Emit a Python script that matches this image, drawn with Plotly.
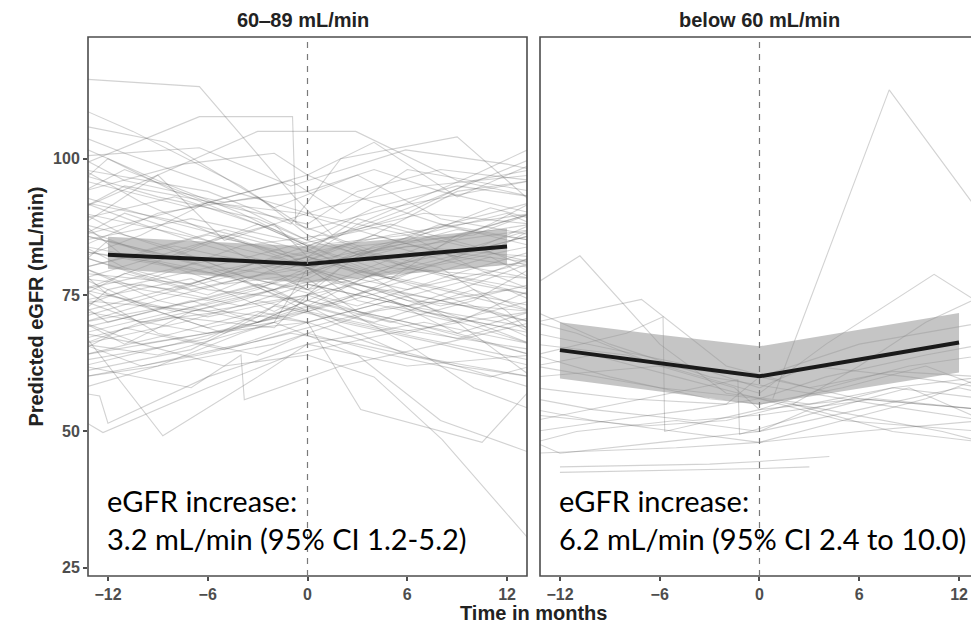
import plotly.graph_objects as go

# ---------------- data ----------------
tick_months = [-12, -6, 0, 6, 12]
tick_month_labels = ["\u221212", "\u22126", "0", "6", "12"]
tick_egfr = [25, 50, 75, 100]
panel_titles = ["60\u201289 mL/min", "below 60 mL/min"]
annot_texts = ["eGFR increase:<br>3.2 mL/min (95% CI 1.2-5.2)",
               "eGFR increase:<br>6.2 mL/min (95% CI 2.4 to 10.0)"]

# model fit (mean + 95% CI ribbon)
fit_months = [-12, -6, 0, 6, 12]
left_mean = [82.4, 81.6, 80.7, 82.3, 83.9]
left_upper = [85.7, 84.8, 83.9, 85.5, 87.2]
left_lower = [79.8, 78.6, 77.2, 79.0, 80.6]
right_mean = [64.9, 62.5, 60.1, 63.2, 66.3]
right_upper = [70.0, 67.7, 65.6, 68.6, 71.7]
right_lower = [59.7, 57.3, 54.9, 57.8, 60.8]

# individual patient trajectories, 60-89 mL/min group
left_times = [
    [-13.5, -6.5, -0.8, 1.5, 7, 13.5], [-13.5, -10.5, -4, 0, 5, 13.5],
    [-13.5, -6.5, -0.9, -0.7, 4, 13.5], [-13.5, -3, 2.9, 9, 13.5],
    [-13.5, -6.5, -1, 5.9, 12, 13.5], [-13.5, -8.5, -2, 3, 8, 13.5],
    [-13.5, -7, 0, 4, 9, 13.5], [-13.5, -9, -5, 1, 7, 13.5],
    [-13.5, -6, -1, 2, 9, 13.5], [-13.5, -11, -4.5, 0, 6, 10, 13.5],
    [-13.5, -7.5, -2, 0, 3, 8, 13.5], [-13.5, -9, -3, 0, 5, 11, 13.5],
    [-13.5, -10, -6, -1, 4, 9, 13.5], [-13.5, -8, -3, 0, 7, 13.5],
    [-13.5, -6, 0, 3, 10, 13.5], [-13.5, -11, -5, 0, 4, 12, 13.5],
    [-13.5, -9.5, -4, 1, 6, 13.5], [-13.5, -7, -2, 0, 5, 9, 13.5],
    [-13.5, -10, -5, 0, 6, 13.5], [-13.5, -8.5, -3.5, 0, 3, 8, 13.5],
    [-13.5, -12, -6, -1, 5, 10, 13.5], [-13.5, -7, -2, 2, 7, 13.5],
    [-13.5, -9, -4, 0, 4, 11, 13.5], [-13.5, -6.5, -1.5, 0, 6, 13.5],
    [-13.5, -11, -6, 0, 5, 10, 13.5], [-13.5, -8, -2, 1, 8, 13.5],
    [-13.5, -10, -4, 0, 3, 9, 13.5], [-13.5, -7.5, -3, 0, 6, 13.5],
    [-13.5, -9, -5, -1, 4, 10, 13.5], [-13.5, -6, 0, 5, 11, 13.5],
    [-13.5, -11, -7, -2, 2, 8, 13.5], [-13.5, -8, -3, 0, 6, 13.5],
    [-13.5, -10, -4, 0, 5, 9, 13.5], [-13.5, -6.5, -1, 3, 9, 13.5],
    [-13.5, -9, -3, 0, 4, 12, 13.5], [-13.5, -12.5, -12, -6, 0, 6, 13.5],
    [-13.5, -12.3, -6, -1, 5, 13.5], [-13.5, -8.7, -3, 0, 7, 13.5],
    [-13.5, -7, -4, -3.8, 2, 8, 13.5], [-13.5, -10, -5, 0, 4, 8.1, 13.5],
    [-13.5, -9, -2, 3, 8, 13.5], [-13.5, -6, 0, 3.2, 10.5, 13.5],
    [-13.5, -11, -5, 0, 6, 10, 13.5], [-13.5, -8, -2, 0, 4, 9, 13.5],
    [-13.5, -10, -5.5, -1, 5, 13.5], [-13.5, -7, -2, 1, 7, 13.5],
    [-13.5, -9, -4, 0, 5, 11, 13.5], [-13.5, -11, -6, 0, 3, 8, 13.5],
    [-13.5, -6, -1, 2, 6, 13.5], [-13.5, -10, -6, -0.5, 4, 9, 13.5],
    [-13.5, -8, -4, 0, 6, 10, 13.5], [-13.5, -12, -7, -3, 2, 7, 13.5],
    [-13.5, -9, -3, 0, 5, 13.5], [-13.5, -6, 0, 2, 8, 13.5],
    [-13.5, -10, -5, 0, 5, 10, 13.5], [-13.5, -7, -2, 1, 6, 13.5],
    [-13.5, -11, -4, 0, 6, 12, 13.5], [-13.5, -8, -3, 0, 4, 9, 13.5],
    [-13.5, -5, 0, 3, 7, 13.5], [-13.5, -9, -2, 0, 5, 11, 13.5],
    [-13.5, -10, -6, -1, 3, 10, 13.5], [-13.5, -7.5, -2, 0, 5, 13.5],
    [-13.5, -12, -8, -3, 0, 6, 13.5], [-13.5, -6, 0, 4, 9, 13.5],
    [-13.5, -9, -4, 0, 6, 13.5], [-13.5, -7, -1, 2, 8, 12, 13.5],
    [-13.5, -11, -5, 0, 4, 8, 13.5], [-13.5, -8, -3, 0, 5, 10, 13.5],
    [-13.5, -10, -2, 0, 3, 9, 13.5], [-13.5, -6, -1, 4, 10, 13.5],
    [-13.5, -9, -4, 0, 5, 10, 13.5], [-13.5, -7, -3, 0, 4, 9, 13.5],
    [-13.5, -11, -6, -1, 3, 8, 13.5], [-13.5, -8, -2, 0, 6, 13.5],
    [-13.5, -10, -5, 0, 4, 10, 13.5], [-13.5, -6, -2, 1, 7, 13.5],
    [-13.5, -9, -4, 0, 6, 11, 13.5], [-13.5, -12, -7, -2, 3, 9, 13.5],
    [-13.5, -8, -3, 0, 5, 13.5], [-13.5, -10, -6, 0, 4, 8, 13.5],
    [-13.5, -7, -1, 3, 9, 13.5], [-13.5, -11, -5, 0, 5, 12, 13.5],
    [-13.5, -9, -3, 0, 4, 9, 13.5], [-13.5, -6, 0, 3, 8, 13.5],
    [-13.5, -10, -4, 0, 6, 10, 13.5], [-13.5, -8, -2, 1, 5, 11, 13.5],
    [-13.5, -12, -6, 0, 4, 9, 13.5], [-13.5, -7, -3, 0, 6, 13.5],
    [-13.5, -9, -5, 0, 3, 8, 13.5], [-13.5, -11, -4, 0, 5, 10, 13.5],
]
left_egfr = [
    [114.6, 113.2, 93, 86, 90, 88], [109, 105, 95, 87, 91, 96],
    [99, 107.7, 107.7, 88, 83, 87], [91, 105, 105, 96, 93],
    [100.5, 102, 95, 101.6, 99, 98], [106, 103, 91, 97, 89, 86],
    [96, 91, 97, 103, 93, 99], [88, 97, 85, 91, 95, 97],
    [98, 94, 88, 100, 104, 92], [104, 101, 94, 90, 86, 80, 78],
    [94, 99, 101, 97, 93, 88, 84], [84, 90, 93, 86, 80, 88, 92],
    [92, 88, 84, 80, 86, 94, 96], [86, 82, 88, 84, 92, 100],
    [80, 86, 82, 88, 97, 102], [90, 86, 80, 78, 84, 90, 88],
    [82, 78, 84, 86, 80, 76], [78, 84, 88, 82, 78, 86, 90],
    [76, 80, 86, 80, 74, 72], [88, 84, 78, 76, 82, 88, 85],
    [72, 76, 80, 84, 88, 84, 80], [74, 78, 72, 78, 84, 90],
    [80, 74, 78, 72, 76, 82, 78], [70, 74, 78, 76, 80, 86],
    [84, 80, 76, 74, 70, 74, 80], [68, 72, 76, 78, 74, 70],
    [74, 70, 74, 78, 72, 68, 72], [66, 70, 74, 72, 68, 74],
    [78, 72, 68, 72, 76, 70, 66], [64, 68, 72, 76, 72, 68],
    [70, 66, 72, 76, 70, 66, 62], [62, 66, 70, 74, 70, 64],
    [66, 62, 66, 70, 74, 68, 64], [60, 64, 68, 66, 62, 58],
    [76, 68, 64, 68, 72, 76, 74], [57, 56.5, 51.5, 60, 66, 62, 64],
    [52, 49.8, 58, 64, 68, 72], [68, 49.2, 60, 66, 70, 66],
    [62, 58, 64, 55.8, 62, 66, 70], [70, 66, 62, 64, 60, 48.5, 29.6],
    [66, 64, 70, 64, 52, 46], [72, 68, 70, 54, 48, 58],
    [86, 90, 84, 76, 66, 58, 54], [80, 84, 80, 82, 78, 70, 60],
    [98, 92, 86, 82, 86, 90], [92, 88, 84, 78, 72, 66],
    [102, 96, 90, 84, 78, 84, 86], [94, 98, 92, 88, 94, 98, 96],
    [86, 92, 96, 90, 98, 94], [82, 86, 92, 90, 86, 82, 80],
    [78, 76, 80, 84, 90, 96, 98], [73, 70, 74, 70, 74, 80, 84],
    [70, 74, 70, 74, 80, 78], [74, 72, 75, 80, 76, 72],
    [66, 70, 72, 70, 74, 78, 82], [84, 80, 76, 80, 84, 82],
    [88, 82, 78, 80, 76, 80, 82], [64, 68, 72, 70, 66, 62, 60],
    [76, 82, 80, 76, 72, 68], [60, 62, 66, 68, 64, 60, 62],
    [80, 76, 74, 78, 84, 86, 90], [90, 86, 82, 80, 84, 88],
    [96, 100, 94, 88, 84, 86, 92], [72, 78, 82, 86, 82, 88],
    [58, 62, 68, 72, 64, 60], [82, 76, 80, 84, 80, 72, 68],
    [100, 96, 92, 94, 98, 94, 90], [76, 72, 76, 80, 84, 80, 76],
    [68, 66, 70, 80, 74, 70, 76], [86, 80, 74, 70, 76, 72],
    [71, 75, 79, 82, 78, 73, 70], [79, 77, 81, 79, 83, 87, 85],
    [75, 79, 75, 81, 77, 73, 77], [67, 71, 69, 75, 79, 81],
    [87, 83, 87, 83, 79, 75, 73], [63, 67, 73, 71, 67, 63],
    [93, 89, 85, 81, 85, 91, 89], [81, 85, 81, 77, 73, 79, 83],
    [69, 73, 77, 73, 69, 65], [77, 73, 69, 73, 79, 83, 81],
    [85, 89, 85, 79, 83, 87], [65, 69, 65, 69, 73, 69, 67],
    [97, 93, 89, 85, 91, 95, 93], [83, 79, 83, 89, 85, 81],
    [73, 77, 73, 77, 73, 77, 75], [89, 93, 87, 83, 79, 83, 87],
    [79, 75, 71, 75, 71, 67, 71], [61, 65, 71, 77, 73, 69],
    [83, 81, 77, 79, 83, 79, 75], [91, 95, 91, 85, 81, 77, 81],
]

# individual patient trajectories, below 60 mL/min group
right_times = [
    [0.8, 7.8, 13.5], [-13.5, -10.8, -6, -2, 3, 8, 13.5],
    [-13.5, -7.1, -2, 3, 8, 13.5], [-13.5, -8, 0, 4, 10.5, 13.5],
    [-12, -3, 0, 4.2], [-13.5, -5, 0, 6, 13.5],
    [-13.5, -9, -3, 0, 5, 10, 13.5], [-13.5, -6, -1.5, 0, 4, 9, 13.5],
    [-13.5, -10, -4, 0, 7, 13.5], [-13.5, -8, -5.8, -5.7, 0, 6, 13.5],
    [-13.5, -7, -1.3, -1.2, 4, 9, 13.5], [-13.5, -9, -4, 0, 5, 13.5],
    [-13.5, -11, -5, 0, 3, 8, 13.5], [-13.5, -6, 0, 4, 10, 13.5],
    [-13.5, -10, -5, 0, 5, 10, 13.5], [-13.5, -8, -2, 0, 6, 13.5],
    [-13.5, -12, -6, 0, 6, 12, 13.5], [-13.5, -4, 0, 3, 9, 13.5],
    [-13.5, -9, -3, 1, 7, 13.5], [-13.5, -7, -2, 2, 8, 13.5],
    [-13.5, -10, -5, 0, 4, 11, 13.5], [-12, -6, 0, 3],
    [-13.5, -11, -6, 0, 6, 13.5], [2, 6, 10, 13.5],
]
right_egfr = [
    [56, 112.6, 89], [77, 82.2, 66, 57, 55, 58, 56],
    [70, 74.2, 62, 58, 61, 60], [66, 64, 57, 66, 78.8, 73],
    [43.5, 44, 44.5, 45.4], [46, 47, 48, 50, 52],
    [64, 60, 56, 55, 58, 62, 58], [60, 62, 58, 54, 58, 62, 64],
    [56, 54, 52, 53, 56, 54], [64, 68, 71, 50, 54, 56, 54],
    [52, 56, 59.5, 49.5, 54, 58, 52], [50, 52, 54, 56, 52, 50],
    [48, 50, 52, 50, 54, 58, 60], [62, 58, 56, 60, 64, 66],
    [54, 52, 50, 48, 52, 56, 60], [58, 56, 55, 60, 66, 70],
    [48, 46, 48, 50, 54, 58, 57], [68, 62, 58, 62, 60, 58],
    [72, 66, 60, 58, 55, 52], [53, 51, 52, 55, 50, 48],
    [62, 64, 60, 56, 54, 50, 48], [42.5, 42.8, 43.2, 43.5],
    [70, 68, 62, 60, 56, 54], [55, 62, 70, 75],
]

# ---------------- figure ----------------
W, H = 971, 624
ML, MR, MT, MB = 88, 0, 37, 48
PW = W - ML - MR
PH = H - MT - MB

fig = go.Figure()

SPAG = "rgba(90,90,90,0.27)"
RIBBON = "rgba(150,150,150,0.55)"


def add_panel(times, values, mean, upper, lower, xa):
    for t, v in zip(times, values):
        fig.add_trace(go.Scatter(x=t, y=v, mode="lines", xaxis=xa, yaxis="y",
                                 line=dict(color=SPAG, width=1.1),
                                 hoverinfo="skip", showlegend=False))
    fig.add_trace(go.Scatter(x=fit_months + fit_months[::-1],
                             y=upper + lower[::-1], fill="toself",
                             fillcolor=RIBBON, line=dict(width=0),
                             mode="lines", xaxis=xa, yaxis="y",
                             hoverinfo="skip", showlegend=False))
    fig.add_trace(go.Scatter(x=fit_months, y=mean, mode="lines",
                             xaxis=xa, yaxis="y",
                             line=dict(color="#1a1a1a", width=4),
                             showlegend=False))


add_panel(left_times, left_egfr, left_mean, left_upper, left_lower, "x")
add_panel(right_times, right_egfr, right_mean, right_upper, right_lower, "x2")

d1 = (527 - ML) / PW
d2 = (540 - ML) / PW

tickfont = dict(family="Liberation Sans", size=16, color="#4d4d4d", weight="bold")
axis_common = dict(showgrid=False, zeroline=False, showline=False,
                   ticks="outside", ticklen=4, tickwidth=1.5, tickcolor="#4d4d4d",
                   tickfont=tickfont, tickvals=tick_months,
                   ticktext=tick_month_labels)

fig.update_layout(
    width=W, height=H,
    margin=dict(l=ML, r=MR, t=MT, b=MB),
    paper_bgcolor="white", plot_bgcolor="white",
    xaxis=dict(domain=[0, d1], range=[-13.2, 13.2], anchor="y", **axis_common),
    xaxis2=dict(domain=[d2, 1], range=[-13.2, 12.72], anchor="y", **axis_common),
    yaxis=dict(domain=[0, 1], range=[23.5, 122.3], anchor="x",
               showgrid=False, zeroline=False, showline=False,
               ticks="outside", ticklen=4, tickwidth=1.5, tickcolor="#4d4d4d",
               tickfont=tickfont, tickvals=tick_egfr),
    showlegend=False,
)

# panel borders
for xr in ["x domain", "x2 domain"]:
    x1 = 1 if xr == "x domain" else 1.05
    fig.add_shape(type="rect", xref=xr, yref="y domain", x0=0, x1=x1, y0=0, y1=1,
                  line=dict(color="#4d4d4d", width=1.6), fillcolor="rgba(0,0,0,0)",
                  layer="above")
# dashed vertical line at month 0
for xr in ["x", "x2"]:
    fig.add_shape(type="line", xref=xr, yref="y domain", x0=0, x1=0, y0=0, y1=1,
                  line=dict(color="#7a7a7a", width=1.2, dash="6px,6px"),
                  layer="above")

titlefont = dict(family="Liberation Sans", size=20, color="#222222", weight="bold")
# strip titles
fig.add_annotation(text=panel_titles[0], xref="x domain", yref="paper", x=0.49,
                   y=1 + (MT - 20) / PH, showarrow=False, font=titlefont,
                   xanchor="center", yanchor="middle")
fig.add_annotation(text=panel_titles[1], xref="x2 domain", yref="paper",
                   x=(759 - 540) / (W - 540), y=1 + (MT - 20) / PH,
                   showarrow=False, font=titlefont, xanchor="center", yanchor="middle")
# axis titles
fig.add_annotation(text="Time in months", xref="paper", yref="paper",
                   x=(533 - ML) / PW, y=-(613 - (H - MB)) / PH, showarrow=False,
                   font=titlefont, xanchor="center", yanchor="middle")
fig.add_annotation(text="Predicted eGFR (mL/min)", xref="paper", yref="paper",
                   x=(35 - ML) / PW, y=0.5, textangle=-90, showarrow=False,
                   font=titlefont, xanchor="center", yanchor="middle")

# effect-size annotations
annfont = dict(family="Lato", size=29, color="#000000")
fig.add_annotation(text=annot_texts[0], xref="x", yref="y", x=-12.2, y=33.9,
                   showarrow=False, font=annfont, align="left",
                   xanchor="left", yanchor="middle")
fig.add_annotation(text=annot_texts[1], xref="x2", yref="y", x=-12.2, y=33.9,
                   showarrow=False, font=annfont, align="left",
                   xanchor="left", yanchor="middle")

fig.write_html("out.html",
               config={"displayModeBar": False},
               post_script="document.body.style.margin='0';"
                           "document.body.style.overflow='hidden';")
